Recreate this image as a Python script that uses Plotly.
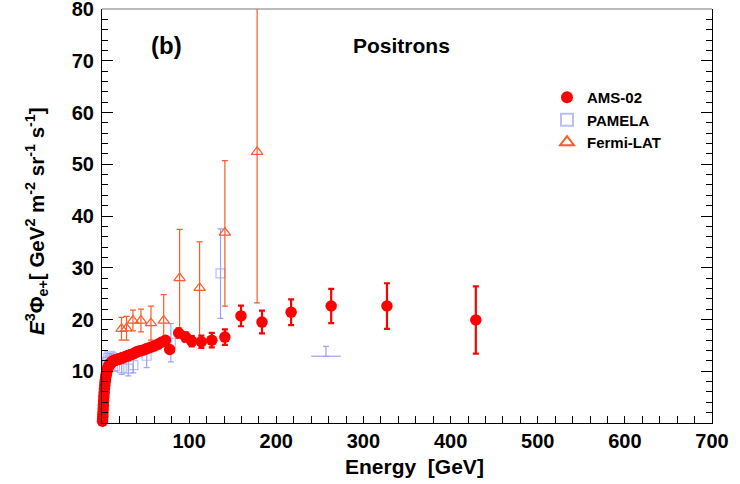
import plotly.graph_objects as go

# ---------------- data ----------------
ams_E = [0.57, 0.73, 0.91, 1.11, 1.34, 1.59, 1.86, 2.15, 2.48, 2.82, 3.18, 3.54, 3.92, 4.33, 4.77,
         5.24, 5.74, 6.27, 6.82, 7.39, 7.99, 8.62, 9.28, 9.96, 10.67, 11.42, 12.19, 12.99, 13.82,
         14.69, 15.59, 16.52, 17.49, 18.48, 19.51, 20.58, 21.69, 22.83, 24.02, 25.26, 26.57, 27.96,
         29.44, 31.03, 32.71, 34.49, 36.39, 38.39, 40.52, 42.79, 45.2, 47.79, 50.56, 53.55, 56.75,
         60.24, 64.06, 68.2, 72.86, 77.69,
         88.0, 96.0, 103.0, 114.0, 126.0, 141.0, 159.5, 183.6, 217.0, 263.0, 327.0, 429.0]
ams_y = [0.35, 0.75, 1.3, 1.95, 2.7, 3.5, 4.3, 5.1, 5.9, 6.6, 7.3, 7.9, 8.4, 8.9, 9.3,
         9.7, 10.1, 10.4, 10.7, 10.9, 11.1, 11.3, 11.4, 11.6, 11.7, 11.8, 11.9, 12.0, 12.1,
         12.1, 12.2, 12.2, 12.3, 12.3, 12.4, 12.4, 12.5, 12.6, 12.6, 12.7, 12.8, 12.9,
         13.0, 13.1, 13.2, 13.3, 13.4, 13.6, 13.8, 13.9, 14.0, 14.1, 14.3, 14.5, 14.7,
         14.9, 15.2, 15.6, 16.0, 14.2,
         17.4, 16.6, 15.8, 15.7, 16.0, 16.6, 20.7, 19.5, 21.4, 22.6, 22.6, 19.9]
ams_err = [0.05, 0.05, 0.05, 0.05, 0.05, 0.05, 0.05, 0.05, 0.05, 0.05, 0.05, 0.05, 0.05, 0.05, 0.05,
           0.05, 0.05, 0.05, 0.05, 0.05, 0.05, 0.05, 0.05, 0.05, 0.05, 0.05, 0.05, 0.05, 0.05,
           0.1, 0.1, 0.1, 0.1, 0.1, 0.1, 0.1, 0.1, 0.1, 0.1, 0.1, 0.1, 0.1,
           0.2, 0.2, 0.2, 0.2, 0.2, 0.2, 0.3, 0.3, 0.3, 0.3, 0.4, 0.4, 0.4,
           0.5, 0.5, 0.6, 0.6, 0.6,
           0.9, 0.9, 1.0, 1.2, 1.4, 1.5, 2.0, 2.2, 2.5, 3.3, 4.4, 6.5]

pam_E = [1.8, 2.6, 3.5, 4.5, 5.7, 7.1, 8.8, 10.9, 14.9, 22.6, 30.2, 35.9, 51.3, 79.0, 136.0, 257.0]
pam_y = [5.5, 7.5, 9.0, 10.5, 11.8, 12.6, 13.0, 12.8, 11.0, 10.6, 10.5, 11.2, 13.0, 15.5, 28.9, 12.9]
pam_up = [0.3, 0.3, 0.3, 0.3, 0.3, 0.4, 0.4, 0.5, 1.0, 1.2, 1.4, 1.5, 2.3, 3.7, 8.6, 1.9]
pam_dn = [0.3, 0.3, 0.3, 0.3, 0.3, 0.4, 0.4, 0.5, 1.0, 1.2, 1.4, 1.5, 2.3, 3.7, 8.7, 0.0]
pam_xerr = [0, 0, 0, 0, 0, 0, 0, 0, 0, 0, 0, 0, 0, 0, 0, 17.0]
pam_size = [9, 9, 9, 9, 9, 9, 9, 9, 9, 9, 9, 9, 9, 9, 9, 0]

fermi_E = [22.4, 28.1, 35.5, 44.7, 56.2, 70.8, 89.1, 112.0, 141.0, 178.0]
fermi_y = [18.2, 18.3, 19.8, 19.8, 19.3, 19.8, 28.0, 26.1, 36.8, 52.4]
fermi_up = [2.2, 2.3, 2.0, 2.2, 3.3, 5.0, 9.4, 8.9, 13.9, 30.0]
fermi_dn = [2.2, 2.3, 2.0, 2.2, 3.3, 5.0, 10.7, 10.4, 14.2, 29.2]

x_ticks = [100, 200, 300, 400, 500, 600, 700]
y_ticks = [10, 20, 30, 40, 50, 60, 70, 80]

FONT = "Liberation Sans, Arial, Helvetica, sans-serif"
RED = "#FF0000"
BLUE = "#9AA3F5"
ORANGE = "#FF5A28"

L, R, T, B = 102, 28, 9, 61
W, H = 740, 484
pw, ph = W - L - R, H - T - B


def px(x):
    return (x - L) / pw


def py(y):
    return (H - B - y) / ph


fig = go.Figure()

fig.add_trace(go.Scatter(
    x=pam_E, y=pam_y, mode="markers", name="PAMELA", legendrank=2,
    marker=dict(symbol="square-open", size=pam_size, color=BLUE, line=dict(width=1.2, color=BLUE)),
    error_y=dict(type="data", symmetric=False, array=pam_up, arrayminus=pam_dn,
                 color=BLUE, thickness=1.2, width=3),
    error_x=dict(type="data", array=pam_xerr, color=BLUE, thickness=1.2, width=0),
))

fig.add_trace(go.Scatter(
    x=fermi_E, y=fermi_y, mode="markers", name="Fermi-LAT", legendrank=3,
    marker=dict(symbol="triangle-up-open", size=10, color=ORANGE, line=dict(width=1.2, color=ORANGE)),
    error_y=dict(type="data", symmetric=False, array=fermi_up, arrayminus=fermi_dn,
                 color=ORANGE, thickness=1.2, width=3),
))

fig.add_trace(go.Scatter(
    x=ams_E, y=ams_y, mode="markers", name="AMS-02", legendrank=1, cliponaxis=False,
    marker=dict(symbol="circle", size=11.5, color=RED, line=dict(width=0)),
    error_y=dict(type="data", array=ams_err, color=RED, thickness=2.2, width=3),
))

tick_font = dict(family=FONT, size=20, color="black", weight="bold")
title_font = dict(family=FONT, size=21, color="black", weight="bold")

fig.update_layout(
    width=W, height=H,
    margin=dict(l=L, r=R, t=T, b=B, autoexpand=False),
    paper_bgcolor="white", plot_bgcolor="white",
    showlegend=True,
    legend=dict(x=px(547), y=py(81), xanchor="left", yanchor="top",
                bgcolor="rgba(0,0,0,0)", borderwidth=0, itemwidth=30,
                font=dict(family=FONT, size=15, color="black", weight="bold"),
                itemsizing="constant", tracegroupgap=0),
    xaxis=dict(range=[0, 700], tickvals=x_ticks, ticktext=[str(v) for v in x_ticks],
               ticks="inside", ticklen=7, tickwidth=1, tickcolor="black",
               minor=dict(dtick=20, tick0=0, ticks="inside", ticklen=7, tickcolor="black"),
               showline=True, linecolor="black", linewidth=1.2, mirror=False,
               showgrid=False, zeroline=False, tickfont=tick_font, automargin=False,
               ticklabeloverflow="allow"),
    yaxis=dict(range=[0, 80], tickvals=y_ticks, ticktext=[str(v) for v in y_ticks],
               ticks="inside", ticklen=11, tickwidth=1.2, tickcolor="black",
               minor=dict(dtick=2, tick0=0, ticks="inside", ticklen=6, tickcolor="black"),
               showline=True, linecolor="black", linewidth=1.2, mirror="ticks",
               showgrid=False, zeroline=False, tickfont=tick_font, automargin=False,
               ticklabeloverflow="allow", ticklabelstandoff=3),
    shapes=[dict(type="line", xref="paper", yref="paper", x0=0, x1=1, y0=1, y1=1,
                 line=dict(color="#777777", width=1))],
    annotations=[
        dict(text="(b)", x=px(166), y=py(45), xref="paper", yref="paper", showarrow=False,
             xanchor="center", yanchor="middle",
             font=dict(family=FONT, size=24, color="black", weight="bold")),
        dict(text="Positrons", x=px(401), y=py(45), xref="paper", yref="paper", showarrow=False,
             xanchor="center", yanchor="middle",
             font=dict(family=FONT, size=21, color="black", weight="bold")),
        dict(text="Energy  [GeV]", x=px(415), y=py(466), xref="paper", yref="paper", showarrow=False,
             xanchor="center", yanchor="middle", font=title_font),
        dict(text="<i>E</i><sup>3</sup>Φ<sub>e+</sub>[ GeV<sup>2</sup> m<sup>-2</sup> sr<sup>-1</sup> s<sup>-1</sup>]",
             x=px(36), y=py(221), xref="paper", yref="paper", showarrow=False, textangle=-90,
             xanchor="center", yanchor="middle",
             font=dict(family=FONT, size=20.5, color="black", weight="bold")),
    ],
)

fig.write_html("out.html", config={"displayModeBar": False},
               post_script="document.body.style.margin='0px';")
